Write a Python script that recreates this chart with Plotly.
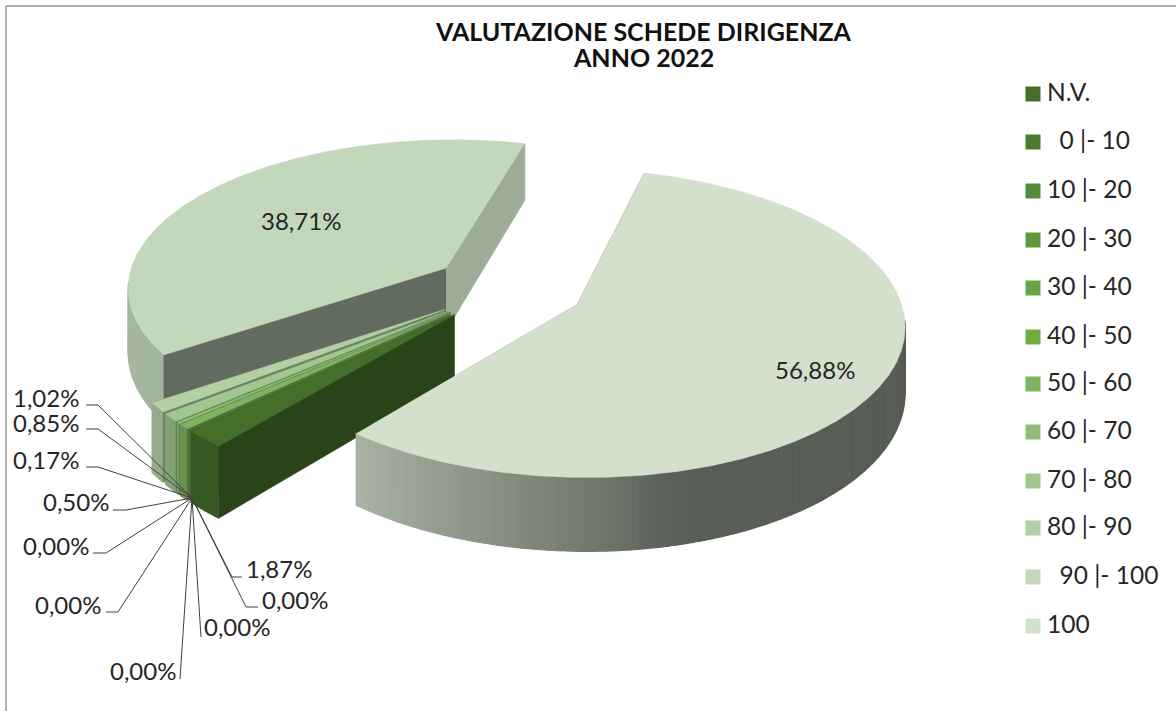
import numpy as np
import plotly.graph_objects as go

categories = ["N.V.", "\u00a0\u00a00 |- 10", "10 |- 20", "20 |- 30", "30 |- 40", "40 |- 50", "50 |- 60",
              "60 |- 70", "70 |- 80", "80 |- 90", "\u00a0\u00a090 |- 100", "100"]
values = [1.87, 0.00, 0.00, 0.00, 0.00, 0.00, 0.50, 0.17, 0.85, 1.02, 38.71, 56.88]
colors = ["#446e2a", "#4c7c30", "#568a38", "#5f983e", "#69a544", "#70ad47", "#7fb35f",
          "#8fbc78", "#a1c68e", "#b3d0a5", "#c3d7bb", "#d3e0cc"]
value_labels = [f"{v:.2f}%".replace(".", ",") for v in values]

# view of the pie (pixel axes)
START = 219.6     # first slice angle, clockwise from the back
EXPLODE = 0.24
CX, CY, A, B, K = 508, 288, 320, 148, 0.12
DEPTH = 64
FONT = "Lato"
INK = "#262626"


def project(X, Y, Z=0.0):
    s = 1 / (1 + K * np.asarray(Y, float))
    return CX + A * np.asarray(X, float) * s, CY - B * np.asarray(Y, float) * s + DEPTH * Z * s


def shade(hex_color, f):
    r, g, b = (int(hex_color[i:i + 2], 16) for i in (1, 3, 5))
    return f"rgb({r * f:.0f},{g * f:.0f},{b * f:.0f})"


def rim_factor(t):
    t = (t + 720) % 360
    return float(np.interp(t, [90, 166, 178, 194, 208, 219, 240, 300],
                           [0.40, 0.42, 0.53, 0.64, 0.73, 0.80, 0.84, 0.86]))


fig = go.Figure()


def poly(xs, ys, color, lw=0.6):
    fig.add_trace(go.Scatter(x=list(xs), y=list(ys), mode="lines", fill="toself", fillcolor=color,
                             line=dict(color=color, width=lw), hoverinfo="skip", showlegend=False))


def cut_face(ox, oy, x, y, color):
    ex, ey = [ox, x], [oy, y]
    xt, yt = project(ex, ey, 0)
    xb, yb = project(ex, ey, 1)
    poly(np.r_[xt, xb[::-1]], np.r_[yt, yb[::-1]], color)


def wedge(t0, t1, color, start_f, end_f):
    mid = np.radians((t0 + t1) / 2)
    ox, oy = EXPLODE * np.sin(mid), EXPLODE * np.cos(mid)
    ts = np.radians(np.linspace(t0, t1, max(int((t1 - t0) * 2), 2) + 1))
    X, Y = ox + np.sin(ts), oy + np.cos(ts)
    cut_face(ox, oy, X[-1], Y[-1], shade(color, end_f))
    # outer rim, as strips so that the shading can vary; only the part facing the viewer
    for i in range(0, len(ts) - 1, 2):
        j = min(i + 2, len(ts) - 1)
        if np.cos((ts[i] + ts[j]) / 2) > -0.1:
            continue
        xt, yt = project(X[i:j + 1], Y[i:j + 1], 0)
        xb, yb = project(X[i:j + 1], Y[i:j + 1], 1)
        poly(np.r_[xt, xb[::-1]], np.r_[yt, yb[::-1]],
             shade(color, rim_factor(np.degrees((ts[i] + ts[j]) / 2))), lw=1.2)
    cut_face(ox, oy, X[0], Y[0], shade(color, start_f))
    # top
    xt, yt = project(np.r_[ox, X], np.r_[oy, Y], 0)
    poly(xt, yt, color)


bounds = START + np.r_[0, np.cumsum(values)] * 3.6
order = [10] + [i for i in range(9, -1, -1) if values[i] > 0] + [11]
for i in order:
    wedge(bounds[i], bounds[i + 1], colors[i], 0.5 if i == 10 else 0.62, 0.8)

# legend
leg_y = [94, 142, 191, 240, 288, 337, 384, 432, 481, 528, 577, 626]
fig.add_trace(go.Scatter(x=[1033] * 12, y=leg_y, mode="markers", hoverinfo="skip", showlegend=False,
                         marker=dict(symbol="square", size=15, color=colors)))
fig.add_trace(go.Scatter(x=[1047] * 12, y=[v + 1 for v in leg_y], mode="text", text=categories,
                         textposition="middle right", hoverinfo="skip", showlegend=False,
                         textfont=dict(family=FONT, size=24.5, color=INK)))

# data labels: slice index, text position, leader path
label_layout = {
    11: ((815, 369), None),
    10: ((301, 220), None),
    9: ((46, 397), [(86, 405), (98, 405)]),
    8: ((46, 422), [(86, 429), (98, 429)]),
    7: ((46, 459), [(86, 467), (98, 467)]),
    6: ((76, 501), [(113, 510), (126, 510)]),
    5: ((56, 545), [(93, 553), (106, 553)]),
    4: ((68, 604), [(106, 612), (118, 612)]),
    3: ((143, 670), [(180, 679)]),
    2: ((237, 626), [(201, 637)]),
    1: ((295, 599), [(258, 607), (246, 607)]),
    0: ((279, 568), [(242, 577), (232, 577)]),
}
HUB = (192, 498)
for i, (pos, path) in label_layout.items():
    if path:
        pts = path + [HUB]
        fig.add_trace(go.Scatter(x=[p[0] for p in pts], y=[p[1] for p in pts], mode="lines",
                                 line=dict(color="#404040", width=1), hoverinfo="skip", showlegend=False))
    fig.add_annotation(x=pos[0], y=pos[1], text=value_labels[i], showarrow=False,
                       font=dict(family=FONT, size=24, color=INK))

fig.add_annotation(x=643, y=31, text="VALUTAZIONE SCHEDE DIRIGENZA", showarrow=False,
                   font=dict(family=FONT, size=25, color="#111111", weight="bold"))
fig.add_annotation(x=643, y=57, text="ANNO 2022", showarrow=False,
                   font=dict(family=FONT, size=25, color="#111111", weight="bold"))

# chart frame
fig.add_shape(type="line", x0=6, x1=6, y0=6, y1=711, line=dict(color="#b4b4b4", width=2))
fig.add_shape(type="line", x0=6, x1=1176, y0=6, y1=6, line=dict(color="#909090", width=1.5))

fig.update_xaxes(range=[0, 1176], visible=False)
fig.update_yaxes(range=[711, 0], visible=False)
fig.update_layout(width=1176, height=711, margin=dict(l=0, r=0, t=0, b=0),
                  paper_bgcolor="white", plot_bgcolor="white", showlegend=False)
fig.write_html("out.html", config=dict(displayModeBar=False),
               post_script="document.body.style.margin='0';document.body.style.overflow='hidden';")
